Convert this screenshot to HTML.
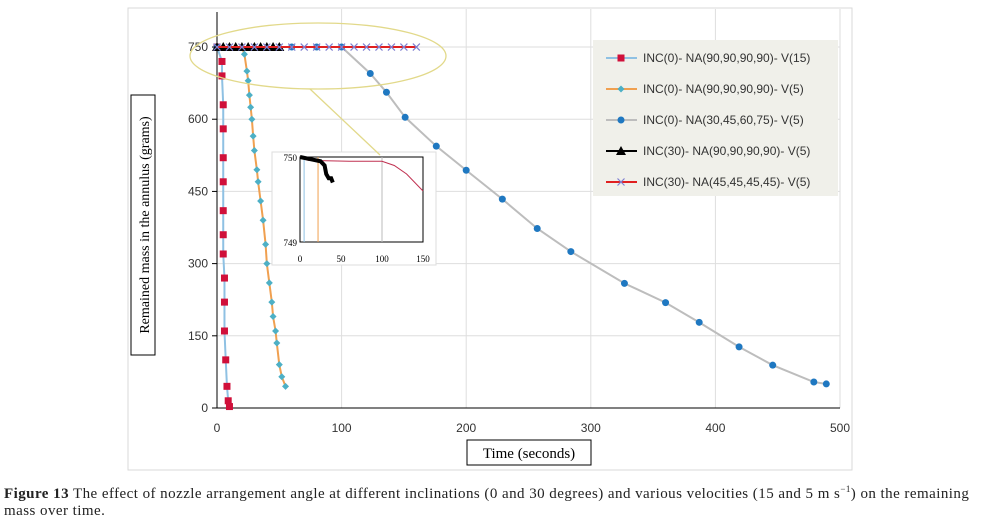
<!DOCTYPE html>
<html><head><meta charset="utf-8">
<style>
body{margin:0;background:#fff;width:986px;height:521px;overflow:hidden;font-family:"Liberation Sans",sans-serif}
#cap{position:absolute;left:4px;top:481px;font-family:"Liberation Serif",serif;font-size:15px;letter-spacing:0.45px;line-height:17px;width:982px;white-space:nowrap;color:#222}
</style></head><body>
<svg id="chart" width="986" height="478" style="position:absolute;left:0;top:0" font-family="Liberation Sans, sans-serif">
<rect x="128" y="8" width="724" height="462" fill="#fff" stroke="#d9d9d9"/>
<g id="grid"></g><g id="axes"></g><g id="series"></g>
<g id="inset"></g>
<ellipse cx="318" cy="56" rx="128" ry="33" fill="none" stroke="#e2d98a" stroke-width="1.3"/>
<line x1="310" y1="89" x2="380" y2="155" stroke="#e2d98a" stroke-width="1.3"/>
<g id="legend"></g>
<g><rect x="131" y="95" width="24" height="260" fill="#fff" stroke="#000"/>
<text transform="translate(149,225) rotate(-90)" text-anchor="middle" font-family="Liberation Serif, serif" font-size="14">Remained mass in the annulus (grams)</text></g>
<g><rect x="467" y="440" width="124" height="25" fill="#fff" stroke="#000"/>
<text x="529" y="458" text-anchor="middle" font-family="Liberation Serif, serif" font-size="15">Time  (seconds)</text></g>
</svg>
<div id="cap"><b>Figure 13</b> The effect of nozzle arrangement angle at different inclinations (0 and 30 degrees) and various velocities (15 and 5 m s<sup style="font-size:9px">−1</sup>) on the remaining<br>mass over time.</div>
<script>
const xTicks=[0,100,200,300,400,500];
const yTicks=[0,150,300,450,600,750];
const s1x=[0,4,4,5,5,5,5,5,5,5,6,6,6,7,8,9,10];
const s1y=[750,720,690,630,580,520,470,410,360,320,270,220,160,100,45,15,3];
const s2x=[20,22,24,25,26,27,28,29,30,32,33,35,37,39,40,42,44,45,47,48,50,52,55];
const s2y=[750,735,700,680,650,625,600,565,535,495,470,430,390,340,300,260,220,190,160,135,90,65,45];
const s3x=[0,60,80,100,123,136,151,176,200,229,257,284,327,360,387,419,446,479,489];
const s3y=[750,750,750,750,695,656,604,544,494,434,373,325,259,219,178,127,89,54,50];
const s4x=[0,5,10,15,20,25,30,35,40,45,50];
const s4y=[750,750,750,750,750,750,750,750,750,750,750];
const s5x=[0,10,20,30,40,50,60,70,80,90,100,110,120,130,140,150,160];
const s5y=[750,750,750,750,750,750,750,750,750,750,750,750,750,750,750,750,750];
const insetTicks=[0,50,100,150];
const NS="http://www.w3.org/2000/svg";
const X=v=>217+v*1.246, Y=v=>408-v*0.4813;
function mk(tag,at,parent){const e=document.createElementNS(NS,tag);for(const k in at)e.setAttribute(k,at[k]);parent.appendChild(e);return e;}
const G=document.getElementById('grid'),A=document.getElementById('axes'),S=document.getElementById('series');
xTicks.forEach(t=>{if(t>0){const l=mk('line',{x1:X(t),x2:X(t),y1:Y(0),y2:9,stroke:'#dedede'},G);
}
const tx=mk('text',{x:X(t),y:432,'text-anchor':'middle','font-size':12,fill:'#333'},A);tx.textContent=t;
});
yTicks.forEach(t=>{if(t>0){const l=mk('line',{x1:X(0),x2:X(500),y1:Y(t),y2:Y(t),stroke:'#dedede'},G);
}
mk('line',{x1:X(0)-5,x2:X(0),y1:Y(t),y2:Y(t),stroke:'#000'},A);
const tx=mk('text',{x:X(0)-9,y:Y(t)+4,'text-anchor':'end','font-size':12,fill:'#333'},A);tx.textContent=t;
});
mk('line',{x1:X(0),x2:X(0),y1:Y(0),y2:12,stroke:'#000'},A);
mk('line',{x1:X(0),x2:X(500),y1:Y(0),y2:Y(0),stroke:'#000'},A);
function marker(type,x,y,col,g){
 if(type==='sq')mk('rect',{x:x-3.5,y:y-3.5,width:7,height:7,fill:col},g);
 else if(type==='dia')mk('path',{d:`M${x} ${y-3.5}L${x+3.5} ${y}L${x} ${y+3.5}L${x-3.5} ${y}Z`,fill:col},g);
 else if(type==='circ')mk('circle',{cx:x,cy:y,r:3.5,fill:col},g);
 else if(type==='tri')mk('path',{d:`M${x} ${y-5}L${x+5} ${y+4}L${x-5} ${y+4}Z`,fill:col},g);
 else {mk('path',{d:`M${x-3.5} ${y-3.5}L${x+3.5} ${y+3.5}M${x+3.5} ${y-3.5}L${x-3.5} ${y+3.5}`,stroke:col,'stroke-width':1.2},g);}
}
const series=[
 {n:'series-inc0-v15',xs:s1x,ys:s1y,lc:'#8fc1e3',mk:'sq',mc:'#d0103a',lab:'INC(0)- NA(90,90,90,90)- V(15)'},
 {n:'series-inc0-v5',xs:s2x,ys:s2y,lc:'#f0a050',mk:'dia',mc:'#4db0c6',lab:'INC(0)- NA(90,90,90,90)- V(5)'},
 {n:'series-inc0-na30',xs:s3x,ys:s3y,lc:'#bdbdbd',mk:'circ',mc:'#1f78c1',lab:'INC(0)- NA(30,45,60,75)- V(5)'},
 {n:'series-inc30-na90',xs:s4x,ys:s4y,lc:'#000',mk:'tri',mc:'#000',lab:'INC(30)- NA(90,90,90,90)- V(5)'},
 {n:'series-inc30-na45',xs:s5x,ys:s5y,lc:'#e02020',mk:'x',mc:'#8080d0',lab:'INC(30)- NA(45,45,45,45)- V(5)'}];
series.forEach(s=>{const g=mk('g',{},S);
 mk('polyline',{points:s.xs.map((x,i)=>X(x)+','+Y(s.ys[i])).join(' '),fill:'none',stroke:s.lc,'stroke-width':2},g);
 s.xs.forEach((x,i)=>marker(s.mk,X(x),Y(s.ys[i]),s.mc,g));});
const L=document.getElementById('legend');
mk('rect',{x:593,y:40,width:245,height:156,fill:'#f0f0ea'},L);
series.forEach((s,i)=>{const y=58+i*31;const g=mk('g',{},L);
 mk('line',{x1:606,x2:637,y1:y,y2:y,stroke:s.lc,'stroke-width':2},g);marker(s.mk,621,y,s.mc,g);
 const t=mk('text',{x:643,y:y+4,'font-size':12,fill:'#333'},g);t.textContent=s.lab;});
const I=document.getElementById('inset');
mk('rect',{x:272,y:152,width:164,height:113,fill:'#fff',stroke:'#ddd'},I);
const IX=v=>300+v*0.82, IY=v=>157+(750-v)*85;
mk('rect',{x:IX(0),y:IY(750),width:123,height:85,fill:'none',stroke:'#000'},I);
insetTicks.forEach(t=>{const tx=mk('text',{x:IX(t),y:262,'text-anchor':'middle','font-size':9,'font-family':'Liberation Serif, serif'},I);tx.textContent=t;});
[[750,'750'],[749,'749']].forEach(([v,s])=>{const tx=mk('text',{x:297,y:IY(v)+4,'text-anchor':'end','font-size':9,'font-family':'Liberation Serif, serif'},I);tx.textContent=s;});
mk('line',{x1:IX(100),x2:IX(100),y1:IY(750),y2:IY(749),stroke:'#bbb'},I);
mk('line',{x1:IX(5),x2:IX(5),y1:IY(750),y2:IY(749),stroke:'#8fc1e3'},I);
mk('line',{x1:IX(22),x2:IX(22),y1:IY(750),y2:IY(749),stroke:'#f0a050'},I);
mk('polyline',{points:[[0,750],[10,749.96],[60,749.95],[100,749.95],[115,749.9],[130,749.8],[150,749.6]].map(p=>IX(p[0])+','+IY(p[1])).join(' '),fill:'none',stroke:'#c03050','stroke-width':1},I);
mk('polyline',{points:[[0,750],[15,749.97],[25,749.95],[30,749.9],[32,749.8],[35,749.75],[38,749.75],[40,749.7]].map(p=>IX(p[0])+','+IY(p[1])).join(' '),fill:'none',stroke:'#000','stroke-width':4},I);
</script>
</body></html>
